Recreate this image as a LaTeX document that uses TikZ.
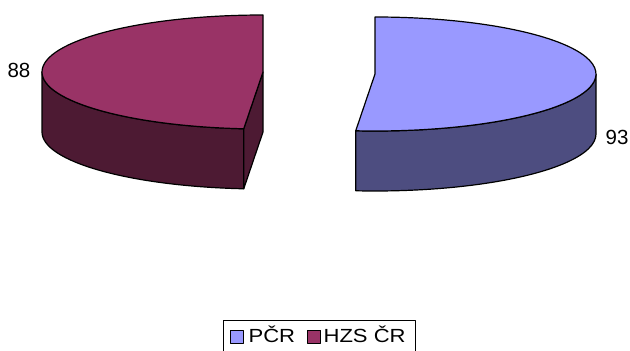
\documentclass[tikz,border=0pt]{standalone}
\usepackage{fontspec}
\setmainfont{Liberation Sans}
\newfontfamily\legfont[FakeStretch=1.16]{Liberation Sans}
\definecolor{pcrtop}{HTML}{9999FF}
\definecolor{pcrside}{HTML}{4D4D80}
\definecolor{hzstop}{HTML}{993366}
\definecolor{hzsside}{HTML}{4D1A33}
\begin{document}
\begin{tikzpicture}[x=1pt,y=1pt,line width=1.2pt,line join=round,
	pie/.style={x radius=221,y radius=57},
	label/.style={font=\fontsize{20.5}{24}\selectfont,inner sep=0pt},
	legtext/.style={font=\legfont\fontsize{19}{23}\selectfont,inner sep=0pt,anchor=base west},
	legbox/.style={draw,line width=0.8pt,minimum size=13pt,inner sep=0pt}]
	\useasboundingbox (0,0) rectangle (630,351);
	\coordinate (hzs) at (263,279);
	\coordinate (pcr) at (375,277);

	% HZS CR slice
	\draw[fill=hzsside] (hzs) ++(180:221 and 57)
	arc[pie,start angle=180,end angle=265] -- ++(0,-60)
	arc[pie,start angle=265,end angle=180] -- cycle;
	\draw[fill=hzsside] (hzs) -- ++(265:221 and 57) -- ++(0,-60)
	-- ([yshift=-60pt]hzs) -- cycle;
	\draw[fill=hzstop] (hzs) -- ++(90:221 and 57)
	arc[pie,start angle=90,end angle=265] -- cycle;
	\node[label] (v88) at (19,281) {88};

	% PCR slice
	\draw[fill=pcrside] (pcr) ++(265:221 and 57)
	arc[pie,start angle=265,end angle=360] -- ++(0,-60)
	arc[pie,start angle=360,end angle=265] -- cycle;
	\draw[fill=pcrtop] (pcr) -- ++(265:221 and 57)
	arc[pie,start angle=265,end angle=450] -- cycle;
	\node[label] (v93) at (617,214) {93};

	% legend
	\draw[line width=0.8pt] (223,-2) |- (415,31) -- (415,-2);
	\node[legbox,fill=pcrtop] (kpcr) at (236.5,14.5) {};
	\node[legtext] (tpcr) at (248,8) {PČR};
	\node[legbox,fill=hzstop] (khzs) at (314,14.5) {};
	\node[legtext] (thzs) at (323,8) {HZS ČR};
\end{tikzpicture}
\end{document}
